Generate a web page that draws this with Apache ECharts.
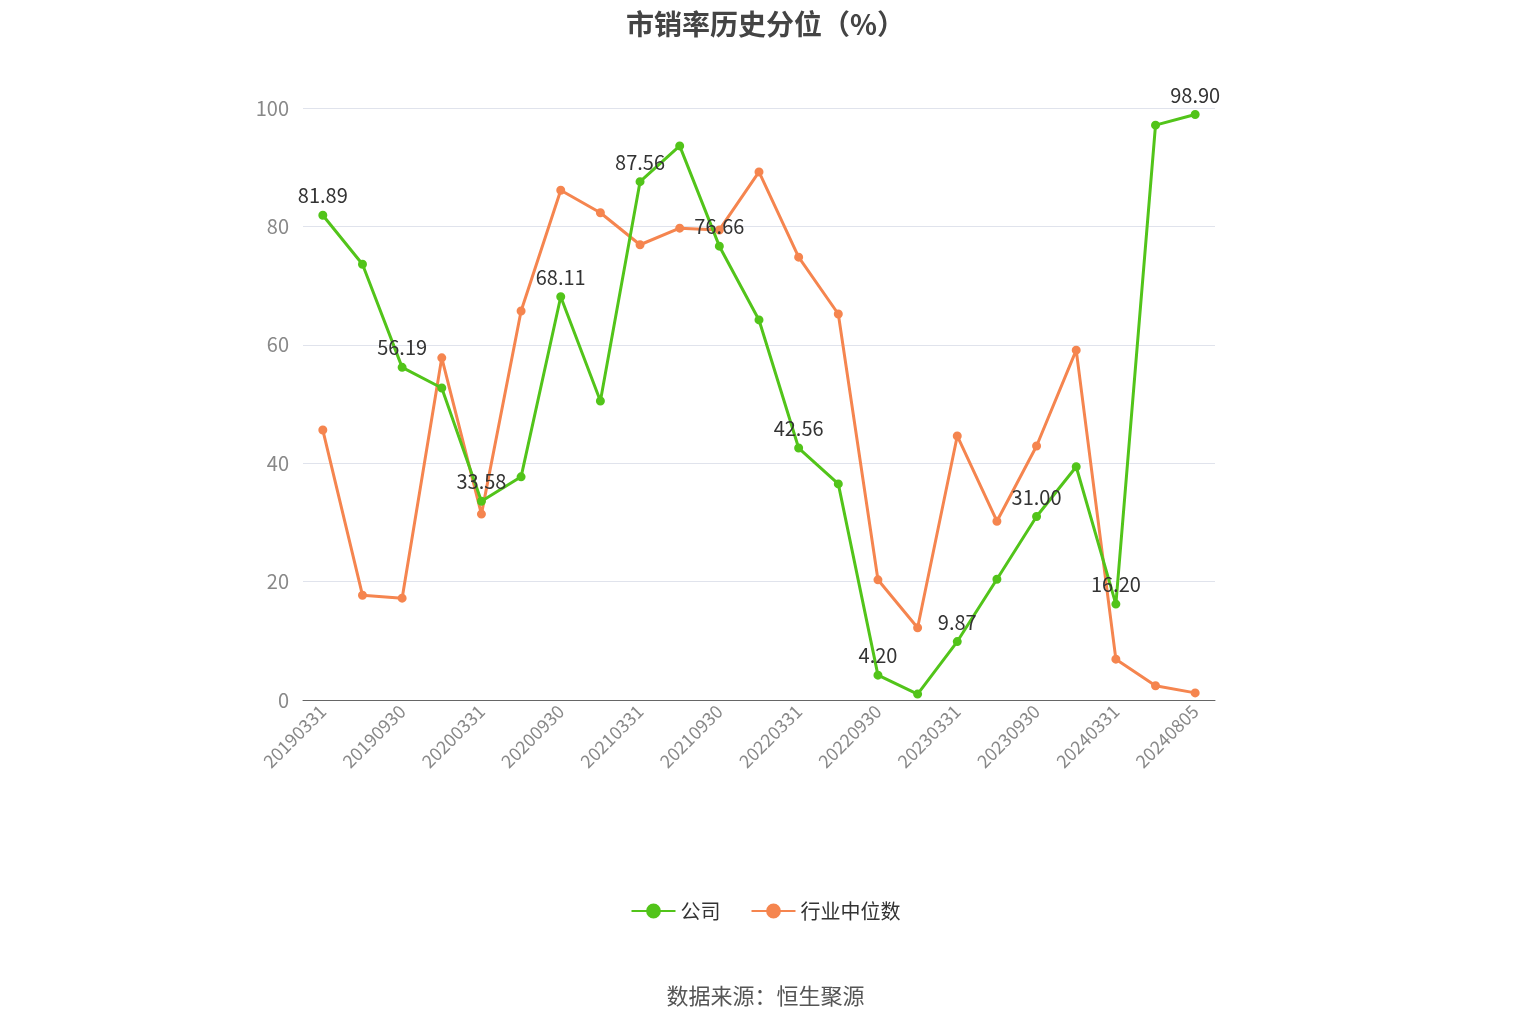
<!DOCTYPE html>
<html>
<head>
<meta charset="utf-8">
<script src="https://cdn.jsdelivr.net/npm/echarts@6/dist/echarts.min.js"></script>
<style>
html, body { margin: 0; padding: 0; background: #fff; }
#main { width: 1531px; height: 1034px; }
</style>
</head>
<body>
<div id="main"></div>
<script>
var dates = ['20190331','20190630','20190930','20191231','20200331','20200630','20200930','20201231',
    '20210331','20210630','20210930','20211231','20220331','20220630','20220930','20221231',
    '20230331','20230630','20230930','20231231','20240331','20240630','20240805'];
var company = [81.89, 73.6, 56.19, 52.7, 33.58, 37.7, 68.11, 50.5, 87.56, 93.6, 76.66, 64.2,
    42.56, 36.5, 4.20, 1.0, 9.87, 20.4, 31.00, 39.4, 16.20, 97.1, 98.90];
var industry = [45.6, 17.7, 17.2, 57.8, 31.4, 65.7, 86.1, 82.3, 76.9, 79.7, 79.4, 89.2,
    74.8, 65.2, 20.3, 12.2, 44.6, 30.2, 42.9, 59.1, 6.9, 2.4, 1.2];

var chart = echarts.init(document.getElementById('main'));
var font = '"Noto Sans CJK SC", "Noto Sans", sans-serif';
chart.setOption({
    textStyle: { fontFamily: font },
    title: {
        text: '市销率历史分位（%）',
        left: 'center',
        top: 5,
        textStyle: { fontSize: 28, fontWeight: 'bold', color: '#444', fontFamily: font }
    },
    graphic: [{
        type: 'text',
        left: 'center',
        top: 985,
        style: { text: '数据来源：恒生聚源', fontSize: 22, fill: '#555', fontFamily: font }
    }],
    legend: {
        bottom: 108,
        left: 'center',
        itemWidth: 44,
        itemHeight: 16,
        itemGap: 30,
        textStyle: { fontSize: 20, color: '#333' },
        data: ['公司', '行业中位数']
    },
    grid: { left: 303, right: 316, top: 108, bottom: 334 },
    xAxis: {
        type: 'category',
        data: dates,
        boundaryGap: true,
        axisLine: { lineStyle: { color: '#666' } },
        axisTick: { alignWithLabel: true, interval: 1, lineStyle: { color: '#666' } },
        axisLabel: { interval: 1, rotate: 45, fontSize: 18, color: '#888' }
    },
    yAxis: {
        type: 'value',
        min: 0, max: 100, interval: 20,
        axisLabel: { fontSize: 20, color: '#888', margin: 14 },
        splitLine: { lineStyle: { color: '#e0e3ec' } }
    },
    series: [{
        name: '公司',
        type: 'line',
        data: company,
        symbol: 'circle',
        symbolSize: 7,
        itemStyle: { color: '#52c41a', borderColor: '#52c41a', borderWidth: 2 },
        lineStyle: { width: 3, color: '#52c41a' },
        label: {
            show: true,
            position: 'top',
            fontSize: 20,
            color: '#333',
            formatter: function (p) { return p.dataIndex % 2 === 0 ? p.value.toFixed(2) : ''; }
        },
        z: 3
    }, {
        name: '行业中位数',
        type: 'line',
        data: industry,
        symbol: 'circle',
        symbolSize: 7,
        itemStyle: { color: '#f5854f', borderColor: '#f5854f', borderWidth: 2 },
        lineStyle: { width: 3, color: '#f5854f' },
        z: 2
    }]
});
</script>
</body>
</html>
